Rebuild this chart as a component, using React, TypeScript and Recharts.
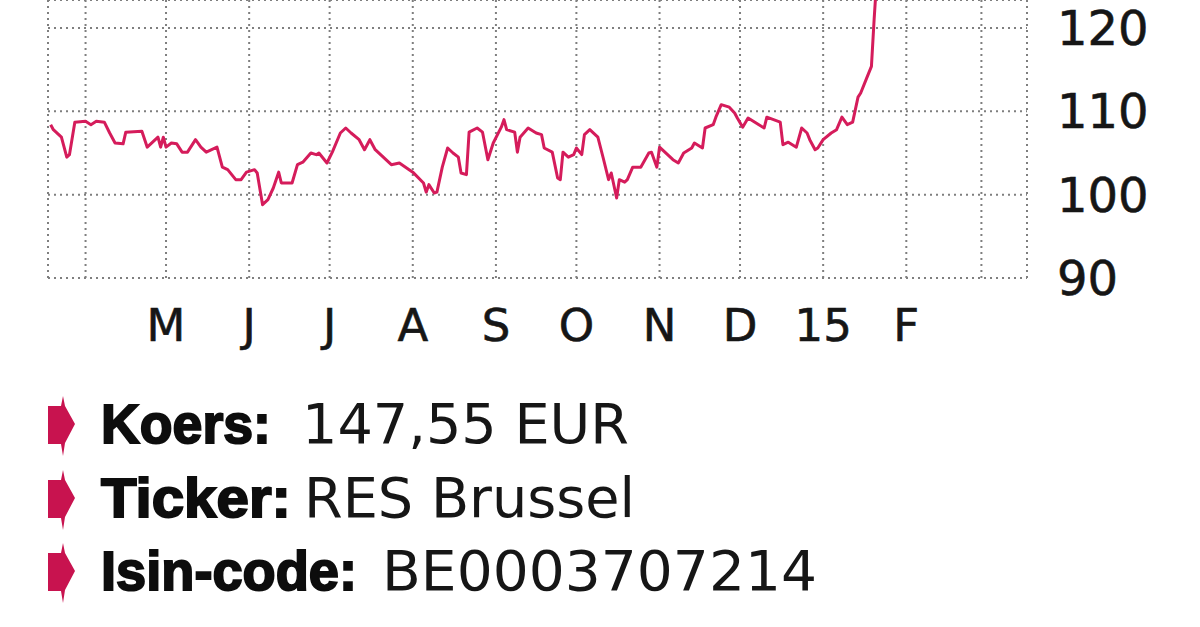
import React from 'react';
import { LineChart, Line, XAxis, YAxis, CartesianGrid } from 'recharts';

// Trading dates and closing prices in EUR
const dates = [
  '2014-03-19', '2014-03-20', '2014-03-23', '2014-03-25', '2014-03-26', '2014-03-28',
  '2014-04-01', '2014-04-03', '2014-04-05', '2014-04-08', '2014-04-10', '2014-04-12',
  '2014-04-15', '2014-04-16', '2014-04-22', '2014-04-24', '2014-04-26', '2014-04-28',
  '2014-04-29', '2014-04-30', '2014-05-01', '2014-05-03', '2014-05-05', '2014-05-07',
  '2014-05-09', '2014-05-12', '2014-05-14', '2014-05-16', '2014-05-20', '2014-05-22',
  '2014-05-24', '2014-05-27', '2014-05-29', '2014-05-31', '2014-06-03', '2014-06-04',
  '2014-06-06', '2014-06-08', '2014-06-10', '2014-06-12', '2014-06-13', '2014-06-17',
  '2014-06-19', '2014-06-21', '2014-06-24', '2014-06-26', '2014-06-27', '2014-06-30',
  '2014-07-02', '2014-07-05', '2014-07-07', '2014-07-09', '2014-07-12', '2014-07-14',
  '2014-07-16', '2014-07-18', '2014-07-21', '2014-07-24', '2014-07-27', '2014-08-01',
  '2014-08-05', '2014-08-06', '2014-08-07', '2014-08-09', '2014-08-10', '2014-08-12',
  '2014-08-14', '2014-08-16', '2014-08-18', '2014-08-19', '2014-08-21', '2014-08-22',
  '2014-08-25', '2014-08-27', '2014-08-29', '2014-08-31', '2014-09-03', '2014-09-04',
  '2014-09-05', '2014-09-08', '2014-09-09', '2014-09-10', '2014-09-13', '2014-09-16',
  '2014-09-18', '2014-09-19', '2014-09-22', '2014-09-24', '2014-09-25', '2014-09-26',
  '2014-09-28', '2014-09-30', '2014-10-01', '2014-10-03', '2014-10-04', '2014-10-06',
  '2014-10-09', '2014-10-11', '2014-10-13', '2014-10-14', '2014-10-16', '2014-10-17',
  '2014-10-19', '2014-10-20', '2014-10-22', '2014-10-25', '2014-10-28', '2014-10-29',
  '2014-10-31', '2014-11-01', '2014-11-03', '2014-11-06', '2014-11-08', '2014-11-10',
  '2014-11-13', '2014-11-14', '2014-11-17', '2014-11-18', '2014-11-21', '2014-11-22',
  '2014-11-24', '2014-11-27', '2014-11-29', '2014-11-30', '2014-12-02', '2014-12-04',
  '2014-12-07', '2014-12-10', '2014-12-11', '2014-12-16', '2014-12-17', '2014-12-19',
  '2014-12-22', '2014-12-24', '2014-12-26', '2014-12-27', '2014-12-29', '2014-12-30',
  '2015-01-01', '2015-01-04', '2015-01-06', '2015-01-08', '2015-01-10', '2015-01-12',
  '2015-01-14', '2015-01-15', '2015-01-17', '2015-01-19', '2015-01-20', '2015-01-21',
  '2015-01-26',
];

const prices = [
  108.4, 107.8, 106.9, 104.5, 104.8, 108.7,
  108.8, 108.4, 108.8, 108.7, 107.4, 106.2,
  106.1, 107.5, 107.6, 105.7, 106.3, 106.9,
  105.7, 106.9, 105.7, 106.2, 106.1, 105.1,
  105.1, 106.6, 105.7, 105.1, 105.7, 103.3,
  103.0, 101.8, 101.8, 102.7, 103.0, 102.6,
  98.8, 99.4, 100.8, 102.7, 101.4, 101.4,
  103.6, 103.9, 105.0, 104.8, 105.0, 103.8,
  105.1, 107.4, 108.0, 107.4, 106.6, 105.4,
  106.6, 105.4, 104.5, 103.6, 103.8, 102.7,
  101.4, 100.3, 101.2, 100.2, 100.3, 103.3,
  105.6, 105.0, 104.5, 102.6, 102.4, 107.5,
  108.0, 107.5, 104.2, 106.2, 108.1, 109.0,
  107.8, 107.5, 105.1, 106.9, 108.0, 107.4,
  107.2, 105.6, 105.1, 102.0, 101.8, 105.1,
  104.5, 104.8, 105.6, 104.8, 107.2, 107.8,
  106.9, 104.4, 101.8, 102.6, 99.6, 101.8,
  101.5, 101.8, 103.3, 103.3, 105.0, 105.1,
  103.3, 105.7, 105.1, 104.2, 103.8, 105.0,
  105.6, 106.2, 105.6, 108.0, 108.4, 109.3,
  110.8, 110.5, 109.8, 109.2, 108.1, 109.2,
  108.6, 108.0, 109.3, 108.7, 106.0, 106.3,
  105.7, 108.0, 107.4, 106.6, 105.4, 105.6,
  106.6, 107.4, 107.8, 109.3, 108.4, 108.7,
  111.7, 112.2, 113.8, 115.4, 121.0, 126.0,
  147.55,
];

// Month gridlines and their labels
const monthTicks = [
  '2014-04-01', '2014-05-01', '2014-06-01', '2014-07-01', '2014-08-01', '2014-09-01',
  '2014-10-01', '2014-11-01', '2014-12-01', '2015-01-01', '2015-02-01', '2015-03-01',
];
const monthLabels = ['', 'M', 'J', 'J', 'A', 'S', 'O', 'N', 'D', '15', 'F', ''];
const yTicks = [90, 100, 110, 120];
const domainStart = '2014-03-18';
const domainEnd = '2015-03-18';

const infoLabels = ['Koers:', 'Ticker:', 'Isin-code:'];
const infoValues = ['147,55 EUR', 'RES Brussel', 'BE0003707214'];

const ts = (s: string) => Date.parse(s + 'T00:00:00Z');
const data = dates.map((d, i) => ({ t: ts(d), price: prices[i] }));
const tickTs = monthTicks.map(ts);

const FONT = '"DejaVu Sans", sans-serif';

const XTick = (props: any) => {
  const { x, y, payload } = props;
  const i = tickTs.indexOf(payload.value);
  const label = i >= 0 ? monthLabels[i] : '';
  return (
    <text
      x={x}
      y={y + 63}
      textAnchor="middle"
      fontFamily={FONT}
      fontSize={45}
      fill="#161616"
      stroke="#161616"
      strokeWidth={0.6}
    >
      {label}
    </text>
  );
};

const YTick = (props: any) => {
  const { x, y, payload } = props;
  return (
    <text
      x={x + 30}
      y={y + 17}
      textAnchor="start"
      fontFamily={FONT}
      fontSize={48}
      fill="#161616"
      stroke="#161616"
      strokeWidth={0.6}
    >
      {payload.value}
    </text>
  );
};

// layout of info block (positions only)
const infoBaselines = [443, 517, 590];
const labelWidths = [170, 190, 256];
const valueStarts = [302, 304, 382];
const valueWidths = [327, 331, 435];

const Bullet = ({ cy }: { cy: number }) => {
  const pts = [
    [48, cy - 19], [61, cy - 19], [63, cy - 29], [65, cy - 19], [75, cy - 1],
    [65, cy + 18], [63, cy + 31], [61, cy + 19], [48, cy + 19],
  ].map((p) => p.join(',')).join(' ');
  return <polygon points={pts} fill="#c8134f" />;
};

export default function App() {
  return (
    <div
      style={{
        position: 'absolute',
        left: 0,
        top: 0,
        width: 1200,
        height: 627,
        background: '#ffffff',
        overflow: 'hidden',
      }}
    >
      <LineChart
        width={1200}
        height={627}
        data={data}
        margin={{ top: 0, right: 33, bottom: 269, left: 48 }}
      >
        <CartesianGrid stroke="#7f7f7f" strokeWidth={2} strokeDasharray="2 4" />
        <XAxis
          dataKey="t"
          type="number"
          domain={[ts(domainStart), ts(domainEnd)]}
          allowDataOverflow
          ticks={tickTs}
          interval={0}
          tick={<XTick />}
          axisLine={false}
          tickLine={false}
          tickSize={0}
          tickMargin={0}
          height={80}
        />
        <YAxis
          orientation="right"
          type="number"
          domain={[90, 123.36]}
          allowDataOverflow
          ticks={yTicks}
          interval={0}
          tick={<YTick />}
          axisLine={false}
          tickLine={false}
          tickSize={0}
          tickMargin={0}
          width={140}
        />
        <Line
          type="linear"
          dataKey="price"
          stroke="#d51c5b"
          strokeWidth={3}
          strokeLinejoin="round"
          dot={false}
          activeDot={false}
          isAnimationActive={false}
        />
      </LineChart>
      <svg
        width={1200}
        height={627}
        style={{ position: 'absolute', left: 0, top: 0, pointerEvents: 'none' }}
      >
        {infoLabels.map((lab, i) => (
          <g key={lab}>
            <Bullet cy={infoBaselines[i] - 18} />
            <text
              x={101}
              y={infoBaselines[i]}
              fontFamily='"Liberation Sans", Arial, sans-serif'
              fontWeight={700}
              fontSize={56}
              fill="#0d0d0d"
              stroke="#0d0d0d"
              strokeWidth={2}
              textLength={labelWidths[i]}
              lengthAdjust="spacingAndGlyphs"
            >
              {lab}
            </text>
            <text
              x={valueStarts[i]}
              y={infoBaselines[i]}
              fontFamily={FONT}
              fontSize={55}
              fill="#161616"
              textLength={valueWidths[i]}
              lengthAdjust="spacingAndGlyphs"
            >
              {infoValues[i]}
            </text>
          </g>
        ))}
      </svg>
    </div>
  );
}
